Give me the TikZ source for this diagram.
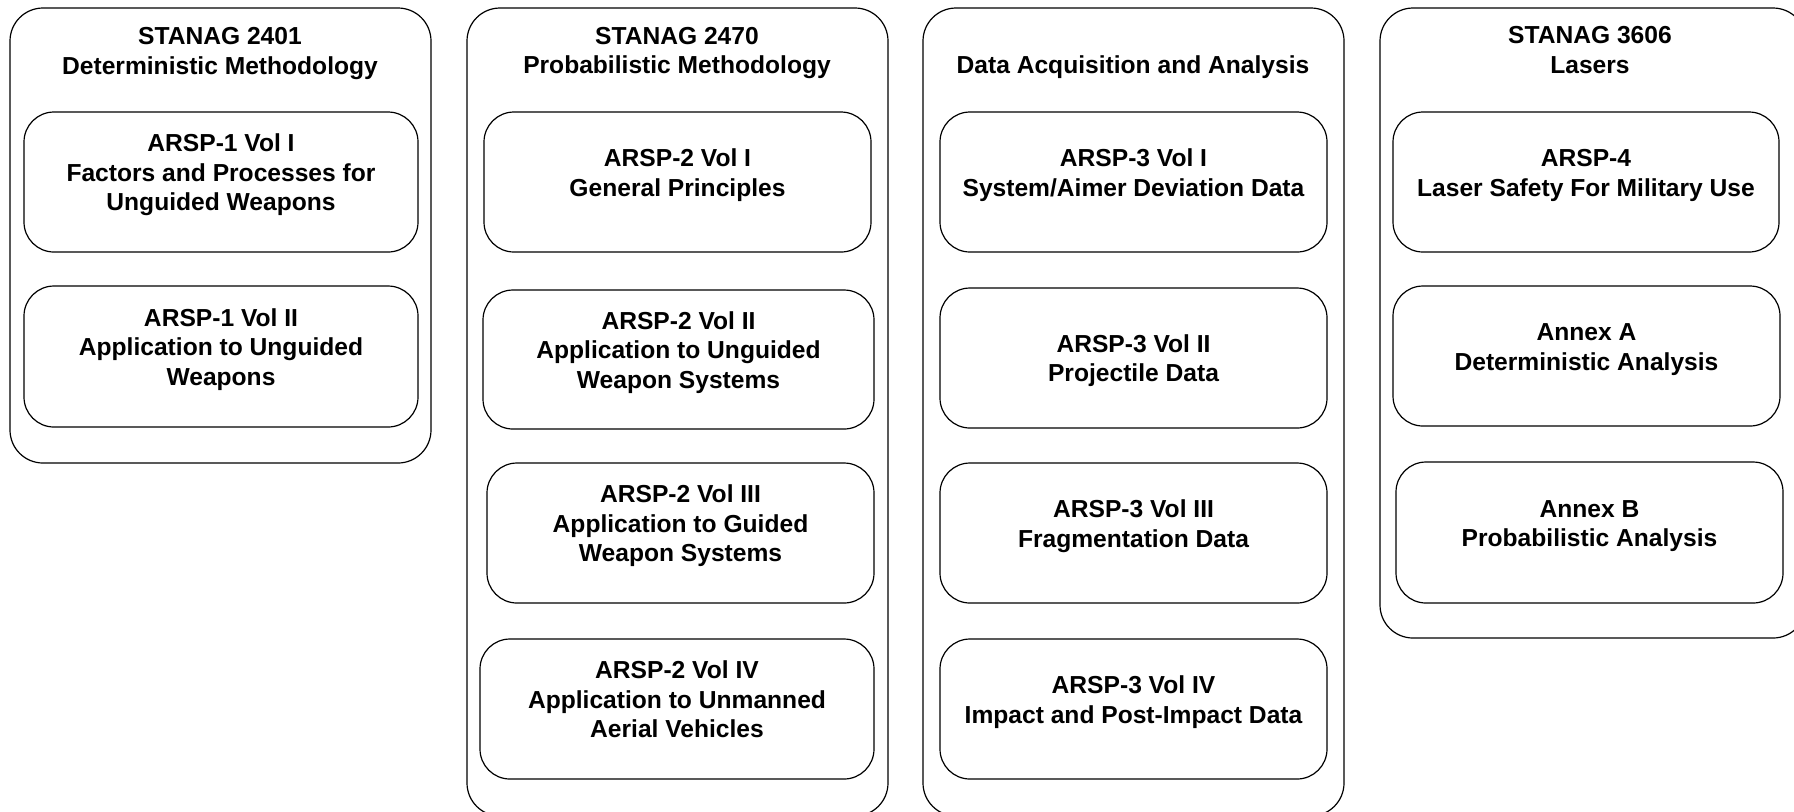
\documentclass[tikz,border=0pt]{standalone}
\usepackage{fontspec}
\setmainfont{Liberation Sans}
\begin{document}
\begin{tikzpicture}[x=0.5pt,y=-0.5pt,
  outerbox/.style={draw, line width=0.6pt, rounded corners=16.5pt, minimum width=210.5pt, inner sep=0pt},
  inbox/.style={draw, line width=0.6pt, rounded corners=15pt, minimum height=70pt, inner sep=0pt},
  lbl/.style={font=\bfseries\fontsize{12.3}{14.75}\selectfont, align=center, inner sep=0pt},
  up/.style={yshift=3.25pt}]
\useasboundingbox (0,0) rectangle (1794,811);
% columns
\node[outerbox, minimum height=227.5pt] (c1) at (220.5,235.5) {};
\node[outerbox, minimum height=404pt] (c2) at (677.5,412) {};
\node[outerbox, minimum height=404pt] (c3) at (1133.5,412) {};
\node[outerbox, minimum width=213pt, minimum height=315pt] (c4) at (1593,323) {};
% titles
\node[lbl] (h1) at (220,53.5) {\strut STANAG 2401\\Deterministic Methodology\strut};
\node[lbl] (h2) at (677,53) {\strut STANAG 2470\\Probabilistic Methodology\strut};
\node[lbl] (h3) at (1133,68) {\strut Data Acquisition and Analysis\strut};
\node[lbl] (h4) at (1590,52.5) {\strut STANAG 3606\\Lasers\strut};
% column 1
\node[inbox, minimum width=197pt] (b11) at (221,182) {};
\node[lbl] (t11) at ([up]b11.center) {\strut ARSP-1 Vol I\\Factors and Processes for\\Unguided Weapons\strut};
\node[inbox, minimum width=197pt, minimum height=70.5pt] (b12) at (221,356.5) {};
\node[lbl] (t12) at ([up]b12.center) {\strut ARSP-1 Vol II\\Application to Unguided\\Weapons\strut};
% column 2
\node[inbox, minimum width=193.5pt] (b21) at (677.5,182) {};
\node[lbl] (t21) at ([up]b21.center) {\strut ARSP-2 Vol I\\General Principles\strut};
\node[inbox, minimum width=195.5pt, minimum height=69.5pt] (b22) at (678.5,359.5) {};
\node[lbl] (t22) at ([up]b22.center) {\strut ARSP-2 Vol II\\Application to Unguided\\Weapon Systems\strut};
\node[inbox, minimum width=193.5pt] (b23) at (680.5,533) {};
\node[lbl] (t23) at ([up]b23.center) {\strut ARSP-2 Vol III\\Application to Guided\\Weapon Systems\strut};
\node[inbox, minimum width=197pt] (b24) at (677,709) {};
\node[lbl] (t24) at ([up]b24.center) {\strut ARSP-2 Vol IV\\Application to Unmanned\\Aerial Vehicles\strut};
% column 3
\node[inbox, minimum width=193.5pt] (b31) at (1133.5,182) {};
\node[lbl] (t31) at ([up]b31.center) {\strut ARSP-3 Vol I\\System/Aimer Deviation Data\strut};
\node[inbox, minimum width=193.5pt] (b32) at (1133.5,358) {};
\node[lbl] (t32) at ([yshift=-1.5pt]b32.center) {\strut ARSP-3 Vol II\\Projectile Data\strut};
\node[inbox, minimum width=193.5pt] (b33) at (1133.5,533) {};
\node[lbl] (t33) at ([up]b33.center) {\strut ARSP-3 Vol III\\Fragmentation Data\strut};
\node[inbox, minimum width=193.5pt] (b34) at (1133.5,709) {};
\node[lbl] (t34) at ([up]b34.center) {\strut ARSP-3 Vol IV\\Impact and Post-Impact Data\strut};
% column 4
\node[inbox, minimum width=193pt] (b41) at (1586,182) {};
\node[lbl] (t41) at ([up]b41.center) {\strut ARSP-4\\Laser Safety For Military Use\strut};
\node[inbox, minimum width=193.5pt] (b42) at (1586.5,356) {};
\node[lbl] (t42) at ([up]b42.center) {\strut Annex A\\Deterministic Analysis\strut};
\node[inbox, minimum width=193.5pt, minimum height=70.5pt] (b43) at (1589.5,532.5) {};
\node[lbl] (t43) at ([up]b43.center) {\strut Annex B\\Probabilistic Analysis\strut};
\end{tikzpicture}
\end{document}
